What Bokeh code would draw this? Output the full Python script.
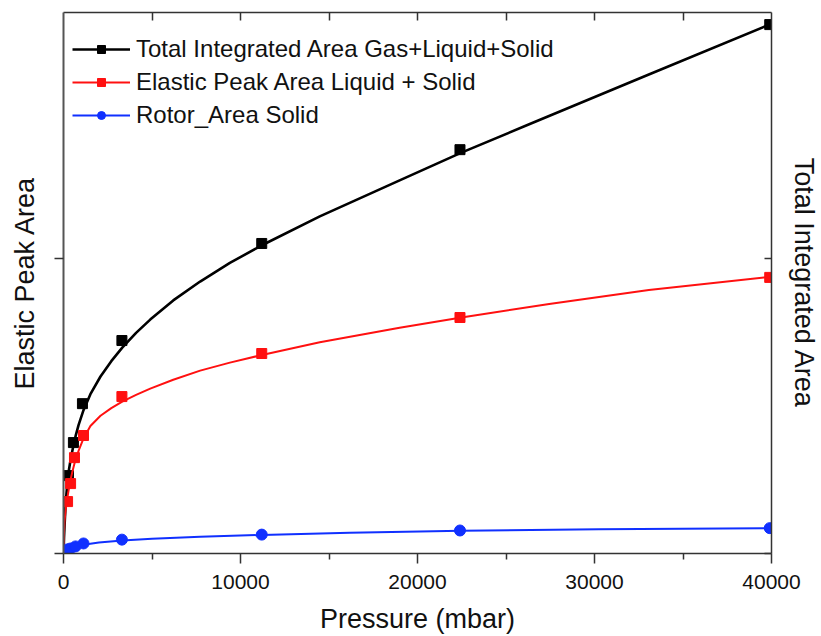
from bokeh.plotting import figure
from bokeh.models import Range1d, LinearAxis, FixedTicker, Legend, LegendItem
from bokeh.embed import file_html
from bokeh.resources import INLINE

# ---- data (y in arbitrary units, mid tick = 1) ----
pressure_total = [280, 560, 1070, 3300, 11200, 22400, 39900]
total_area = [0.264, 0.376, 0.508, 0.722, 1.051, 1.369, 1.793]

pressure_elastic = [230, 400, 620, 1130, 3300, 11200, 22400, 39900]
elastic_area = [0.176, 0.237, 0.325, 0.400, 0.532, 0.678, 0.800, 0.936]

pressure_rotor = [230, 400, 680, 1130, 3300, 11200, 22400, 39900]
rotor_area = [0.014, 0.017, 0.024, 0.034, 0.047, 0.064, 0.078, 0.086]

# fitted curves
fit_p_total = [0, 30, 60, 110, 170, 230, 310, 400, 560, 700, 850, 1130, 1520, 2090,
               2700, 3320, 4100, 4900, 6200, 7720, 9400, 11210, 14480, 18990, 22480,
               26310, 33070, 39890]
fit_total = [0, 0.055, 0.095, 0.155, 0.205, 0.245, 0.285, 0.318, 0.366, 0.402, 0.435,
             0.486, 0.540, 0.600, 0.652, 0.698, 0.748, 0.793, 0.858, 0.922, 0.985,
             1.045, 1.143, 1.265, 1.359, 1.455, 1.624, 1.793]

fit_p_elastic = [0, 20, 60, 110, 170, 230, 310, 400, 500, 620, 850, 1130, 1520, 2090,
                 2700, 3320, 4100, 4900, 6200, 7720, 9400, 11210, 14480, 18990, 22480,
                 27440, 33070, 39890]
fit_elastic = [0, 0.060, 0.110, 0.142, 0.170, 0.193, 0.222, 0.250, 0.277, 0.305, 0.348,
               0.390, 0.432, 0.467, 0.493, 0.515, 0.538, 0.559, 0.589, 0.620, 0.647,
               0.673, 0.716, 0.765, 0.800, 0.846, 0.893, 0.938]

fit_p_rotor = [0, 20, 60, 150, 280, 450, 680, 1130, 2000, 3320, 5000, 7720, 11210,
               16170, 22480, 30250, 39890]
fit_rotor = [0, 0.007, 0.011, 0.014, 0.017, 0.020, 0.024, 0.030, 0.037, 0.044, 0.050,
             0.057, 0.063, 0.070, 0.077, 0.082, 0.086]

x_ticks = [0, 10000, 20000, 30000, 40000]
x_minor = [5000, 15000, 25000, 35000]
top_ticks = [5000, 10000, 15000, 20000, 25000, 30000, 35000]
y_ticks = [0, 1]

labels = ["Total Integrated Area Gas+Liquid+Solid",
          "Elastic Peak Area Liquid + Solid",
          "Rotor_Area Solid"]

BLACK = "#000000"
RED = "#FF1010"
BLUE = "#1030FF"
AXC = "#333333"
FONT = "Liberation Sans"

p = figure(width=821, height=636, output_backend="svg", toolbar_location=None,
           x_range=Range1d(0, 40000), y_range=Range1d(0, 1.834),
           min_border_left=63, min_border_right=48, min_border_top=12,
           min_border_bottom=83)
p.grid.visible = False
p.outline_line_color = None
p.background_fill_color = "white"
p.border_fill_color = "white"

l_tot = p.line(fit_p_total, fit_total, line_color=BLACK, line_width=2.6)
s_tot = p.scatter(pressure_total, total_area, marker="square", size=10,
                  fill_color=BLACK, line_color=BLACK)
l_el = p.line(fit_p_elastic, fit_elastic, line_color=RED, line_width=2)
s_el = p.scatter(pressure_elastic, elastic_area, marker="square", size=10,
                 fill_color=RED, line_color=RED)
l_ro = p.line(fit_p_rotor, fit_rotor, line_color=BLUE, line_width=2)
s_ro = p.scatter(pressure_rotor, rotor_area, marker="circle", size=11,
                 fill_color=BLUE, line_color=BLUE)


def hide_labels(ax):
    ax.major_label_text_font_size = "0px"
    ax.major_label_text_color = None
    ax.major_label_standoff = 0


# bottom axis
xa = p.xaxis[0]
xa.ticker = FixedTicker(ticks=x_ticks, minor_ticks=x_minor)
xa.major_tick_out = 10
xa.major_tick_in = 0
xa.minor_tick_out = 6
xa.minor_tick_in = 0
xa.axis_line_color = AXC
xa.axis_line_width = 1.5
xa.major_tick_line_color = AXC
xa.major_tick_line_width = 1.5
xa.minor_tick_line_color = AXC
xa.minor_tick_line_width = 1.5
xa.major_label_text_font = FONT
xa.major_label_text_font_size = "21px"
xa.major_label_text_color = "#111111"
xa.major_label_standoff = 11
xa.axis_label = "Pressure (mbar)"
xa.axis_label_text_font = FONT
xa.axis_label_text_font_size = "27px"
xa.axis_label_text_font_style = "normal"
xa.axis_label_text_color = "#111111"
xa.axis_label_standoff = 12

# left axis
ya = p.yaxis[0]
ya.ticker = FixedTicker(ticks=y_ticks, minor_ticks=[])
ya.major_tick_out = 9
ya.major_tick_in = 0
ya.minor_tick_out = 0
ya.minor_tick_in = 0
ya.axis_line_color = "#555555"
ya.axis_line_width = 2
ya.major_tick_line_color = AXC
ya.major_tick_line_width = 1.5
hide_labels(ya)
ya.axis_label = "Elastic Peak Area"
ya.axis_label_text_font = FONT
ya.axis_label_text_font_size = "27px"
ya.axis_label_text_font_style = "normal"
ya.axis_label_text_color = "#111111"
ya.axis_label_standoff = 15

# right axis
ra = LinearAxis(ticker=FixedTicker(ticks=y_ticks, minor_ticks=[]))
ra.major_tick_in = 7
ra.major_tick_out = 0
ra.minor_tick_in = 0
ra.minor_tick_out = 0
ra.axis_line_color = AXC
ra.axis_line_width = 1.5
ra.major_tick_line_color = AXC
ra.major_tick_line_width = 1.5
hide_labels(ra)
ra.axis_label = "Total Integrated Area"
ra.axis_label_text_font = FONT
ra.axis_label_text_font_size = "27px"
ra.axis_label_text_font_style = "normal"
ra.axis_label_text_color = "#111111"
ra.axis_label_standoff = 17
p.add_layout(ra, "right")

# top axis
ta = LinearAxis(ticker=FixedTicker(ticks=top_ticks, minor_ticks=[]))
ta.major_tick_in = 8
ta.major_tick_out = 0
ta.minor_tick_in = 0
ta.minor_tick_out = 0
ta.axis_line_color = AXC
ta.axis_line_width = 1.5
ta.major_tick_line_color = AXC
ta.major_tick_line_width = 1.5
hide_labels(ta)
p.add_layout(ta, "above")

legend = Legend(items=[
    LegendItem(label=labels[0], renderers=[l_tot, s_tot]),
    LegendItem(label=labels[1], renderers=[l_el, s_el]),
    LegendItem(label=labels[2], renderers=[l_ro, s_ro]),
], location=(9, 424))
legend.border_line_color = None
legend.background_fill_alpha = 0
legend.padding = 0
legend.margin = 0
legend.spacing = 5
legend.glyph_width = 58
legend.glyph_height = 20
legend.label_height = 20
legend.label_standoff = 6
legend.label_text_font = FONT
legend.label_text_font_size = "24px"
legend.label_text_color = "#111111"
p.add_layout(legend, "center")

open("out.html", "w").write(file_html(p, INLINE))
